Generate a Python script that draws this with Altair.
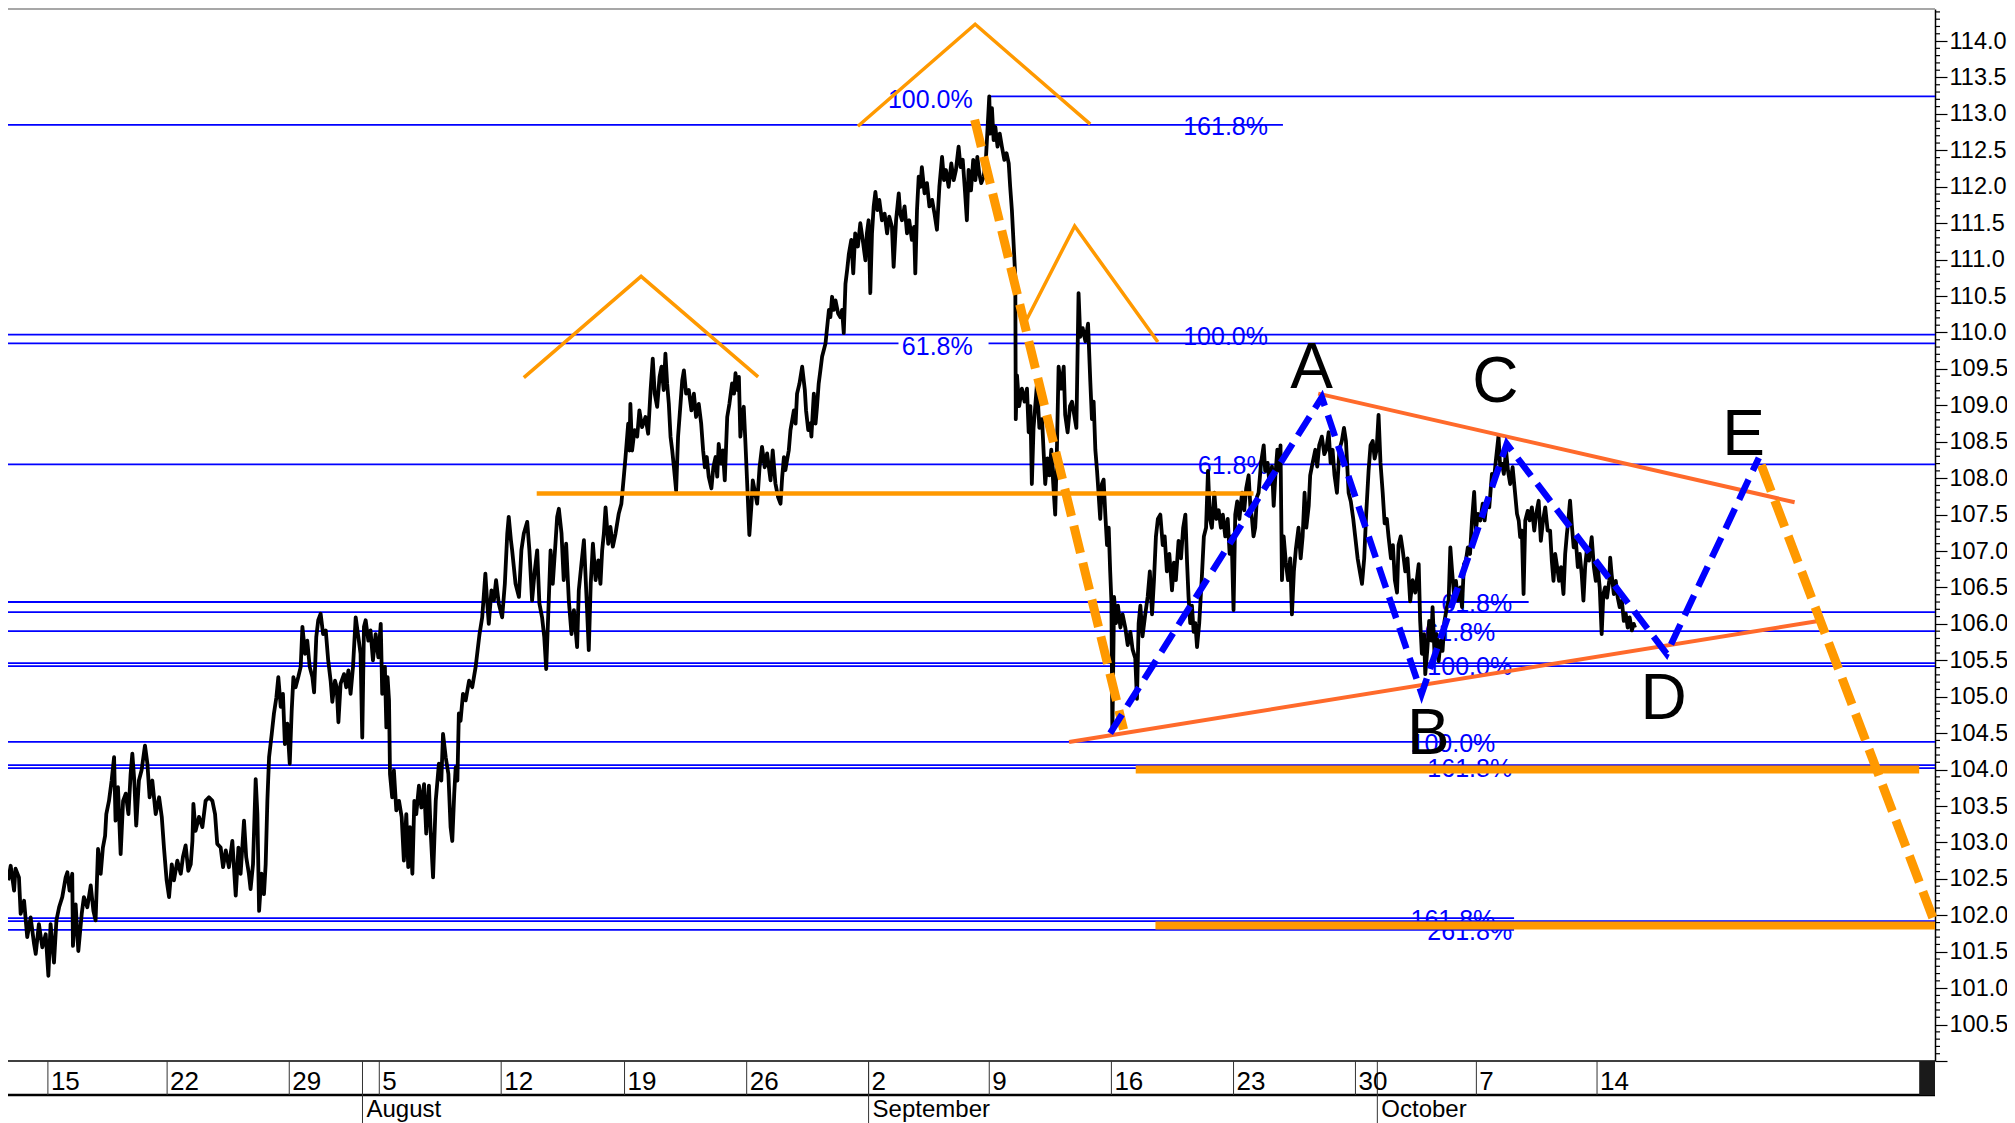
import altair as alt
import pandas as pd

W, H = 1927, 1052

# ---------------- price path: (trading-day index, price) ----------------
seg_jul = [(0.01,102.48),(0.11,102.68),(0.25,102.34),(0.31,102.64),(0.45,102.52),(0.52,102.02),(0.66,102.20),(0.79,101.70),(0.93,101.97),(1.07,101.61),(1.14,101.47),(1.27,101.88),(1.41,101.56),(1.55,101.74),(1.66,101.17),(1.75,101.88),(1.89,101.35),(1.99,101.93),(2.10,102.11),(2.23,102.25),(2.37,102.52),(2.44,102.59),(2.53,102.34),(2.64,102.57),(2.67,101.58),(2.78,102.15),(2.89,101.51),(3.03,102.02),(3.12,102.25),(3.26,102.11),(3.40,102.41),(3.51,102.06),(3.60,101.93),(3.70,102.91),(3.81,102.57),(3.90,102.93),(3.99,103.09),(4.04,103.39),(4.15,103.57),(4.26,103.85),(4.36,104.17),(4.42,103.30),(4.52,103.76),(4.63,102.84),(4.73,103.57),(4.84,103.67),(4.95,103.39),(5.04,103.94),(5.11,104.22),(5.19,103.85),(5.27,103.23),(5.38,103.85),(5.49,103.99),(5.63,104.33),(5.73,104.08),(5.82,103.62),(5.93,103.85),(6.07,103.39),(6.21,103.62),(6.32,103.35),(6.41,102.93),(6.52,102.48),(6.62,102.25),(6.73,102.70),(6.82,102.48),(6.96,102.75),(7.10,102.57),(7.19,102.80),(7.30,102.96),(7.41,102.61),(7.51,102.70),(7.58,103.02),(7.62,103.53),(7.71,103.16),(7.85,103.35),(7.99,103.21),(8.12,103.57),(8.26,103.62),(8.40,103.57),(8.51,103.39),(8.60,102.98),(8.74,102.93),(8.84,102.66),(8.95,102.89),(9.08,102.66),(9.22,103.02),(9.36,102.27),(9.47,102.93),(9.56,102.57),(9.70,103.30),(9.79,102.80),(9.90,102.57),(9.97,102.36),(10.07,102.70),(10.18,103.87),(10.25,103.39),(10.32,102.06),(10.42,102.57),(10.52,102.29),(10.59,102.70),(10.66,103.57),(10.73,104.17),(10.84,104.49),(10.93,104.77),(11.03,104.99),(11.11,105.27),(11.21,104.86),(11.30,105.04),(11.38,104.35),(11.48,104.63),(11.58,104.08),(11.66,104.81),(11.73,105.27),(11.82,105.13),(11.93,105.27),(12.03,105.41),(12.10,105.96),(12.21,105.59),(12.30,105.77),(12.40,105.41),(12.51,105.27),(12.58,105.06),(12.67,105.82),(12.75,106.05),(12.85,106.14),(12.95,105.86),(13.06,105.91),(13.16,105.50),(13.26,105.22),(13.33,104.93),(13.44,105.22),(13.51,105.13),(13.58,104.65),(13.67,105.18),(13.81,105.31),(13.90,105.13),(13.99,105.36),(14.08,105.04),(14.18,105.41),(14.29,106.09),(14.42,105.77),(14.49,105.59),(14.56,104.44),(14.63,105.96),(14.70,106.05),(14.81,105.77),(14.90,105.91),(15.00,105.50),(15.11,105.86),(15.22,105.54),(15.32,106.00),(15.38,105.04),(15.49,105.41),(15.55,104.58),(15.60,105.27),(15.66,104.95),(15.70,103.94),(15.79,103.62),(15.86,103.99),(15.96,103.44),(16.07,103.57),(16.18,103.35),(16.27,102.75),(16.37,103.39),(16.45,102.66),(16.52,103.21),(16.62,102.57),(16.70,103.57),(16.78,103.39),(16.89,103.78),(16.99,103.48),(17.10,103.80),(17.19,103.12),(17.30,103.78),(17.37,103.16),(17.47,102.52),(17.58,103.57),(17.71,104.08),(17.81,103.85),(17.88,104.49),(17.99,104.17),(18.10,103.94),(18.19,103.21),(18.26,103.02),(18.34,103.67),(18.40,104.03),(18.47,103.85),(18.53,104.77),(18.60,104.67),(18.70,105.04),(18.81,104.95),(18.95,105.22),(19.08,105.13),(19.22,105.41)]

seg_aug = [(19.38,105.86),(19.49,106.09),(19.62,106.69),(19.69,106.32),(19.76,106.00),(19.87,106.46),(19.97,106.32),(20.06,106.60),(20.17,106.28),(20.31,106.09),(20.42,106.55),(20.52,107.24),(20.58,107.47),(20.67,107.15),(20.72,107.01),(20.86,106.55),(21.00,106.37),(21.10,107.01),(21.20,107.24),(21.34,107.40),(21.43,107.01),(21.54,106.32),(21.65,106.73),(21.75,107.01),(21.84,106.28),(21.95,106.09),(22.04,105.82),(22.12,105.38),(22.20,106.09),(22.30,107.01),(22.39,106.55),(22.50,107.10),(22.57,107.47),(22.64,107.58),(22.75,107.24),(22.84,106.60),(22.94,107.10),(23.05,106.32),(23.16,105.86),(23.26,106.19),(23.39,105.68),(23.46,106.46),(23.57,106.83),(23.67,107.15),(23.74,106.64),(23.80,106.19),(23.87,105.64),(23.95,106.55),(24.04,107.10),(24.15,106.60),(24.26,106.87),(24.35,106.55),(24.42,107.01),(24.49,107.24),(24.56,107.60),(24.67,107.10),(24.76,107.33),(24.86,107.06),(24.97,107.24),(25.10,107.51),(25.21,107.65),(25.31,108.02),(25.38,108.29),(25.49,108.75),(25.54,108.38),(25.58,109.02),(25.65,108.38),(25.75,108.66),(25.86,108.57),(25.95,108.93),(26.06,108.70),(26.20,108.84),(26.31,108.61),(26.41,109.21),(26.50,109.64),(26.58,109.16),(26.68,108.98),(26.78,109.39),(26.86,109.53),(26.95,109.21),(27.02,109.71),(27.09,109.30),(27.16,109.02),(27.23,108.57),(27.30,108.38),(27.37,108.15),(27.46,107.83),(27.54,108.57),(27.64,109.02),(27.71,109.34),(27.78,109.48),(27.87,109.16),(27.98,109.21),(28.09,108.93),(28.19,109.16),(28.28,108.84),(28.39,109.02),(28.49,108.75),(28.57,108.38),(28.64,108.15),(28.72,108.29),(28.80,108.02),(28.91,107.86),(28.99,108.15),(29.08,108.29),(29.15,108.02),(29.21,108.47),(29.30,108.20),(29.38,108.38),(29.46,107.97),(29.56,108.84),(29.65,109.02),(29.76,109.30),(29.84,109.16),(29.90,109.44),(29.98,109.21),(30.04,109.39),(30.10,108.57),(30.17,108.84),(30.24,108.98),(30.31,108.47),(30.38,107.93),(30.47,107.22),(30.56,107.65),(30.61,107.97),(30.69,107.83),(30.79,107.65),(30.89,108.15),(30.99,108.43),(31.10,108.15),(31.20,108.34),(31.34,107.97),(31.43,108.38),(31.54,107.93),(31.65,107.74),(31.75,107.65),(31.82,108.02),(31.89,108.29),(31.95,108.11),(32.02,108.25),(32.09,108.38),(32.16,108.66),(32.30,108.93),(32.37,108.75),(32.43,109.16),(32.53,109.30),(32.64,109.53),(32.75,109.21),(32.80,108.93),(32.89,108.66),(32.98,108.75),(33.02,108.57),(33.08,108.93),(33.12,109.16),(33.19,108.75),(33.25,108.98),(33.32,109.30),(33.39,109.48),(33.46,109.67),(33.53,109.76),(33.60,109.85),(33.67,110.08),(33.74,110.31),(33.80,110.21),(33.87,110.49),(33.94,110.31),(34.01,110.44),(34.12,110.26),(34.21,110.21),(34.28,110.31),(34.35,109.99),(34.42,110.67),(34.49,110.86),(34.56,111.08)]

seg_sep1 = [(34.66,111.27),(34.74,110.81),(34.82,111.36),(34.93,111.18),(35.03,111.50),(35.13,111.27),(35.24,110.99),(35.30,111.36),(35.37,111.54),(35.44,110.54),(35.51,111.36),(35.58,111.73),(35.65,111.93),(35.73,111.68),(35.81,111.82),(35.92,111.54),(36.03,111.63),(36.13,111.36),(36.22,111.59),(36.33,111.45),(36.40,110.90),(36.50,111.54),(36.61,111.91),(36.67,111.63),(36.74,111.54),(36.85,111.73),(36.95,111.36),(37.04,111.54),(37.15,111.27),(37.24,111.45),(37.29,110.81),(37.36,111.68),(37.43,112.14),(37.50,112.00),(37.56,112.27),(37.67,111.91),(37.77,112.05),(37.87,111.73),(37.98,111.82),(38.08,111.63),(38.18,111.41),(38.28,112.00),(38.39,112.41),(38.47,112.09),(38.55,112.23),(38.66,112.00),(38.77,112.32),(38.87,112.09),(38.96,112.23),(39.07,112.55),(39.15,112.27),(39.24,112.37),(39.32,112.00),(39.41,111.54),(39.48,112.23),(39.58,111.95),(39.67,112.37),(39.76,112.09),(39.84,112.41),(39.92,112.18),(40.00,112.05),(40.10,112.14),(40.19,112.37),(40.30,113.05),(40.33,113.24),(40.37,112.73),(40.44,113.08),(40.51,112.64),(40.58,112.82),(40.67,112.55),(40.76,112.73),(40.85,112.55),(40.95,112.37),(41.04,112.46),(41.13,112.32),(41.19,112.00),(41.26,111.68),(41.33,111.22),(41.40,110.76)]

seg_sep2 = [(41.42,108.81),(41.47,109.41),(41.56,108.99),(41.67,109.23),(41.78,109.05),(41.88,109.23),(41.95,108.63),(42.02,108.99),(42.08,107.92),(42.15,108.69),(42.22,108.99),(42.29,109.29),(42.39,108.69),(42.50,108.81),(42.56,108.39),(42.63,107.92),(42.72,108.27),(42.80,108.04),(42.88,108.39),(42.96,107.92),(43.04,107.50),(43.11,108.39),(43.18,109.53),(43.29,109.23),(43.39,109.53),(43.45,108.87),(43.55,108.63),(43.65,108.99),(43.73,109.05),(43.82,108.87),(43.91,108.69),(44.00,110.54),(44.07,109.94),(44.17,110.06),(44.28,109.88),(44.39,110.12),(44.48,109.35),(44.55,108.81),(44.62,109.05),(44.69,108.39),(44.76,108.10),(44.82,107.80),(44.89,107.44),(44.96,107.92),(45.03,107.98),(45.10,107.50),(45.17,107.08),(45.24,107.32),(45.30,106.72),(45.35,106.31),(45.39,104.49),(45.46,106.37),(45.54,106.01),(45.62,106.25),(45.72,105.95),(45.81,106.13),(45.92,105.95),(46.02,105.71),(46.13,105.89),(46.22,105.65),(46.33,105.53),(46.40,104.97),(46.47,106.01),(46.54,106.25),(46.63,105.83),(46.74,106.13),(46.84,106.37),(46.93,106.72),(47.02,106.13),(47.10,106.60),(47.18,107.20),(47.26,107.44),(47.36,107.50),(47.46,107.08),(47.54,107.20),(47.63,106.72),(47.73,106.96),(47.84,106.46),(47.92,106.84),(48.00,106.60),(48.11,107.14),(48.21,106.90),(48.30,107.32),(48.39,107.50),(48.46,106.84),(48.52,106.37),(48.59,106.01),(48.66,106.25),(48.73,105.89),(48.80,106.01),(48.87,105.68),(48.96,106.01),(49.07,106.66),(49.15,107.20),(49.24,107.32),(49.32,108.10),(49.40,107.44),(49.48,107.32),(49.58,107.80),(49.66,107.44),(49.76,107.56),(49.85,107.32),(49.93,107.50),(50.03,107.20),(50.13,107.44),(50.21,106.96),(50.29,107.20),(50.37,106.19),(50.44,107.50),(50.52,107.68),(50.61,107.44),(50.72,107.80),(50.81,107.56),(50.89,107.86),(50.99,108.04),(51.06,107.62),(51.13,107.44),(51.19,107.20),(51.26,107.32),(51.33,107.74),(51.40,107.80),(51.50,108.21),(51.61,108.45),(51.67,108.10),(51.77,108.21),(51.85,107.92),(51.95,108.16),(52.02,107.62),(52.09,108.04),(52.17,108.39),(52.25,108.10),(52.30,108.45),(52.36,106.60),(52.43,107.20),(52.52,106.84),(52.61,106.60),(52.70,106.90),(52.77,106.13),(52.85,106.72),(52.93,107.02),(53.04,107.32),(53.13,106.90),(53.21,107.20),(53.29,107.80),(53.36,107.32),(53.46,107.62),(53.52,108.04),(53.62,108.21),(53.73,108.39),(53.81,108.16),(53.89,108.45),(54.00,108.57),(54.10,108.33),(54.18,108.39),(54.28,108.63),(54.36,108.21),(54.44,108.39),(54.52,108.04),(54.62,107.80),(54.72,108.39),(54.82,108.51),(54.91,108.69),(54.99,108.51),(55.10,107.80),(55.19,107.68),(55.29,107.44),(55.37,107.20),(55.47,106.90),(55.56,106.72),(55.65,106.55),(55.74,106.90),(55.82,107.50),(55.92,108.10),(56.00,108.45),(56.09,108.51),(56.17,108.27),(56.25,108.39),(56.33,108.87),(56.41,108.21),(56.50,107.80),(56.58,107.38),(56.67,107.44),(56.74,107.20),(56.84,106.90),(56.92,107.08),(57.00,106.60),(57.09,106.43),(57.15,107.08),(57.24,107.20),(57.32,107.02),(57.43,106.72),(57.52,106.90),(57.63,106.31),(57.73,106.60),(57.84,106.43)]

seg_oct1 = [(57.98,106.82),(58.04,106.04),(58.11,105.59),(58.20,105.86),(58.25,105.31),(58.33,105.63),(58.41,106.04),(58.50,105.77),(58.55,106.23),(58.63,105.59),(58.72,105.86),(58.80,105.49),(58.88,105.77),(58.96,105.63),(59.04,106.04),(59.14,106.23),(59.21,106.32),(59.28,107.05),(59.35,106.73),(59.43,106.41),(59.51,106.59),(59.59,106.32),(59.69,106.50),(59.76,106.23),(59.84,106.82),(59.92,106.87),(60.00,107.05),(60.09,106.96),(60.17,107.42),(60.26,107.81),(60.33,107.28),(60.41,107.51),(60.51,107.42),(60.61,107.65),(60.69,107.42),(60.78,107.69),(60.88,107.60),(60.99,108.06),(61.07,107.97),(61.15,108.24),(61.26,108.58),(61.33,108.15),(61.40,108.20),(61.48,108.06),(61.57,108.38),(61.65,108.10),(61.74,107.92),(61.84,108.15),(61.92,107.87),(62.02,107.51),(62.09,107.42),(62.15,107.19),(62.22,107.28),(62.29,106.41),(62.36,107.42),(62.46,107.55),(62.54,107.42),(62.63,107.60),(62.73,107.28),(62.81,107.51),(62.91,107.69),(63.00,107.14),(63.09,107.42),(63.18,107.60),(63.28,107.28)]

seg_oct2 = [(63.38,107.28),(63.45,106.87),(63.52,106.59),(63.59,106.96),(63.67,106.78),(63.75,106.59),(63.83,106.78),(63.93,106.41),(64.00,106.96),(64.07,107.23),(64.13,107.42),(64.20,107.69),(64.27,107.37),(64.35,107.05),(64.44,107.14),(64.52,106.78),(64.60,106.96),(64.68,106.68),(64.75,106.32),(64.82,106.78),(64.90,107.05),(64.98,106.87),(65.09,107.19),(65.18,106.78),(65.26,106.59),(65.34,106.78),(65.42,106.50),(65.50,105.86),(65.57,106.41),(65.64,106.50),(65.72,106.36),(65.81,106.59),(65.85,106.91),(65.91,106.68),(66.00,106.41),(66.08,106.59),(66.16,106.36),(66.24,106.23),(66.33,106.32),(66.41,106.04),(66.49,106.14),(66.57,105.95),(66.65,106.09),(66.74,105.91),(66.82,106.00),(66.87,105.95)]

# ---------------- Fibonacci levels (blue) ----------------
fib_level = [113.24, 112.85, 109.97, 109.85, 109.85, 108.19, 106.30, 106.16, 105.90, 105.42, 105.46, 104.38, 104.02, 104.06, 101.96, 101.92, 101.80]
fib_from  = [40.3,   0.0,    0.0,    0.0,    40.3,   0.0,    0.0,    0.0,    0.0,    0.0,    0.0,    0.0,    0.0,    0.0,    0.0,    0.0,    0.0]
fib_to    = [79.2,   52.4,   79.2,   36.6,   79.2,   79.2,   62.5,   79.2,   79.2,   79.2,   79.2,   79.2,   79.2,   79.2,   61.9,   79.2,   61.9]

lab_left_text  = ["161.8%", "100.0%", "61.8%"]
lab_left_day   = [48.3, 48.3, 48.9]
lab_left_level = [112.85, 109.97, 108.19]

lab_right_text  = ["100.0%", "61.8%", "61.8%", "61.8%", "100.0%", "100.0%", "161.8%", "161.8%", "261.8%"]
lab_right_day   = [39.65, 39.65, 61.82, 61.13, 61.82, 61.13, 61.82, 61.13, 61.82]
lab_right_level = [113.22, 109.83, 106.30, 105.90, 105.44, 104.38, 104.04, 101.96, 101.80]

# ---------------- orange head & shoulders ----------------
hs_group = ["L", "L", "L", "H", "H", "H", "R", "R", "R"]
hs_day   = [21.20, 26.02, 30.83, 34.93, 39.75, 44.48, 41.78, 43.84, 47.26]
hs_level = [109.38, 110.77, 109.39, 112.83, 114.23, 112.86, 110.12, 111.46, 109.87]

neck_day = [21.73, 51.19]
neck_level = 107.79

thick_level = [104.00, 101.86]
thick_from  = [46.35, 47.16]
thick_to    = [78.55, 79.2]

proj_x1 = [39.73, 72.06]
proj_y1 = [112.92, 108.18]
proj_x2 = [45.85, 79.15]
proj_y2 = [104.55, 101.93]

# ---------------- triangle (red-orange) ----------------
tri_x1 = [53.85, 43.61]
tri_y1 = [109.16, 104.38]
tri_x2 = [73.43, 74.60]
tri_y2 = [107.67, 106.05]

# ---------------- ABCDE wave (blue dashed) ----------------
wave_day   = [45.30, 54.00, 58.10, 61.60, 68.17, 71.96]
wave_level = [104.50, 109.11, 105.04, 108.47, 105.59, 108.28]

letters       = ["A", "B", "C", "D", "E"]
letters_day   = [53.58, 58.38, 61.13, 68.05, 71.33]
letters_level = [109.50, 104.47, 109.30, 104.95, 108.58]

# ---------------- axes ----------------
major_ticks = [100.0, 100.5, 101.0, 101.5, 102.0, 102.5, 103.0, 103.5, 104.0, 104.5, 105.0,
               105.5, 106.0, 106.5, 107.0, 107.5, 108.0, 108.5, 109.0, 109.5, 110.0, 110.5,
               111.0, 111.5, 112.0, 112.5, 113.0, 113.5, 114.0]
minor_ticks = [round(100 + 0.1 * k, 1) for k in range(1, 145) if k % 5 != 0]

day_labels = ["15", "22", "29", "5", "12", "19", "26", "2", "9", "16", "23", "30", "7", "14"]
day_pos    = [1.64, 6.54, 11.56, 15.26, 20.27, 25.34, 30.36, 35.37, 40.33, 45.35, 50.37, 55.38, 60.35, 65.31]
month_labels = ["August", "September", "October"]
month_pos    = [14.57, 35.37, 56.28]
end_block = [78.55, 79.2]

# ================= build =================
xsc = alt.Scale(domain=[0, 79.2], nice=False, zero=False)
ysc = alt.Scale(domain=[100.0, 114.44], nice=False, zero=False)

BLUE = "#0000ff"
ORANGE = "#ff9900"
RED_OR = "#ff6a2b"
FONT = "Liberation Sans"

y_axis = alt.Axis(orient="right", values=major_ticks, format=".1f", labelFontSize=23.5,
                  labelFont=FONT, labelColor="black", tickColor="black", domainColor="black",
                  domainWidth=1.5, tickWidth=1.2, tickSize=12, labelPadding=2, grid=False,
                  title=None, labelOverlap=False, labelFlush=False,
                  labelExpr="datum.value < 100.2 ? '' : datum.label")


def X(f):
    return alt.X(f, type="quantitative", scale=xsc, axis=None)


def Y(f):
    return alt.Y(f, type="quantitative", scale=ysc, axis=y_axis)


price = seg_jul + seg_aug + seg_sep1 + seg_sep2 + seg_oct1 + seg_oct2
price_df = pd.DataFrame({"d": [p[0] for p in price], "v": [p[1] for p in price],
                         "i": list(range(len(price)))})

fib_df = pd.DataFrame({"v": fib_level, "d1": fib_from, "d2": fib_to})
labL_df = pd.DataFrame({"t": lab_left_text, "d": lab_left_day, "v": lab_left_level})
labR_df = pd.DataFrame({"t": lab_right_text, "d": lab_right_day, "v": lab_right_level})
hs_df = pd.DataFrame({"g": hs_group, "d": hs_day, "v": hs_level, "i": list(range(len(hs_day)))})
neck_df = pd.DataFrame({"d1": [neck_day[0]], "d2": [neck_day[1]], "v": [neck_level]})
thick_df = pd.DataFrame({"v": thick_level, "d1": thick_from, "d2": thick_to})
proj_df = pd.DataFrame({"x1": proj_x1, "y1": proj_y1, "x2": proj_x2, "y2": proj_y2})
tri_df = pd.DataFrame({"x1": tri_x1, "y1": tri_y1, "x2": tri_x2, "y2": tri_y2})
wave_df = pd.DataFrame({"d": wave_day, "v": wave_level, "i": list(range(len(wave_day)))})
let_df = pd.DataFrame({"t": letters, "d": letters_day, "v": letters_level})
minor_df = pd.DataFrame({"v": minor_ticks})
day_df = pd.DataFrame({"t": day_labels, "d": day_pos})
mon_df = pd.DataFrame({"t": month_labels, "d": month_pos})
blk_df = pd.DataFrame({"d1": [end_block[0]], "d2": [end_block[1]]})
one = pd.DataFrame({"k": [0]})

fib_lines = alt.Chart(fib_df).mark_rule(color=BLUE, strokeWidth=1.8).encode(
    x=X("d1"), x2="d2", y=Y("v"))

labL = alt.Chart(labL_df).mark_text(align="left", baseline="middle", dy=2, fontSize=25,
                                     font=FONT, color=BLUE).encode(x=X("d"), y=Y("v"), text="t")
labR = alt.Chart(labR_df).mark_text(align="right", baseline="middle", dy=2, fontSize=25,
                                     font=FONT, color=BLUE).encode(x=X("d"), y=Y("v"), text="t")

price_line = alt.Chart(price_df).mark_line(color="black", strokeWidth=3.8, strokeJoin="round").encode(
    x=X("d"), y=Y("v"), order="i:Q")

hs = alt.Chart(hs_df).mark_line(color=ORANGE, strokeWidth=3.5).encode(
    x=X("d"), y=Y("v"), detail="g:N", order="i:Q")

neck = alt.Chart(neck_df).mark_rule(color=ORANGE, strokeWidth=4.5).encode(
    x=X("d1"), x2="d2", y=Y("v"))

thick = alt.Chart(thick_df).mark_rule(color=ORANGE, strokeWidth=8).encode(
    x=X("d1"), x2="d2", y=Y("v"))

tri = alt.Chart(tri_df).mark_rule(color=RED_OR, strokeWidth=4).encode(
    x=X("x1"), x2="x2", y=Y("y1"), y2="y2")

proj = alt.Chart(proj_df).mark_rule(color=ORANGE, strokeWidth=9, strokeDash=[28, 10]).encode(
    x=X("x1"), x2="x2", y=Y("y1"), y2="y2")

wave = alt.Chart(wave_df).mark_line(color=BLUE, strokeWidth=6.5, strokeDash=[22, 10]).encode(
    x=X("d"), y=Y("v"), order="i:Q")

lets = alt.Chart(let_df).mark_text(align="center", baseline="middle", fontSize=64, font=FONT,
                                   color="black").encode(x=X("d"), y=Y("v"), text="t")

minor = alt.Chart(minor_df).mark_rule(color="black", strokeWidth=1.2).encode(
    y=Y("v"), x=alt.value(W), x2=alt.value(W + 5))

# frame / date box
top_line = alt.Chart(one).mark_rule(color="#8a8a8a", strokeWidth=1.5).encode(
    x=alt.value(0), x2=alt.value(W), y=alt.value(0))
box_top = alt.Chart(one).mark_rule(color="black", strokeWidth=1.5).encode(
    x=alt.value(0), x2=alt.value(W), y=alt.value(H))
box_mid = alt.Chart(one).mark_rule(color="black", strokeWidth=2.5).encode(
    x=alt.value(0), x2=alt.value(W), y=alt.value(H + 34))
week_div = alt.Chart(day_df).mark_rule(color="#333333", strokeWidth=1).encode(
    x=X("d"), y=alt.value(H), y2=alt.value(H + 34))
mon_div = alt.Chart(mon_df).mark_rule(color="#333333", strokeWidth=1).encode(
    x=X("d"), y=alt.value(H), y2=alt.value(H + 62))
day_txt = alt.Chart(day_df).mark_text(align="left", baseline="alphabetic", dx=3, fontSize=26,
                                      font=FONT, color="black").encode(
    x=X("d"), y=alt.value(H + 29), text="t")
mon_txt = alt.Chart(mon_df).mark_text(align="left", baseline="alphabetic", dx=4, fontSize=24,
                                      font=FONT, color="black").encode(
    x=X("d"), y=alt.value(H + 56), text="t")
blk = alt.Chart(blk_df).mark_rect(color="#1a1a1a").encode(
    x=X("d1"), x2="d2", y=alt.value(H), y2=alt.value(H + 34))

chart = alt.layer(
    fib_lines, labL, labR, price_line, hs, neck, thick, tri, proj, wave, lets,
    minor, top_line, box_top, box_mid, week_div, mon_div, day_txt, mon_txt, blk
).properties(
    width=W, height=H,
    padding={"left": 0, "top": 1, "right": 72, "bottom": 62},
    autosize=alt.AutoSizeParams(type="none")
).configure_view(stroke=None)

chart.save("out.html", embed_options={"renderer": "svg", "actions": False})
